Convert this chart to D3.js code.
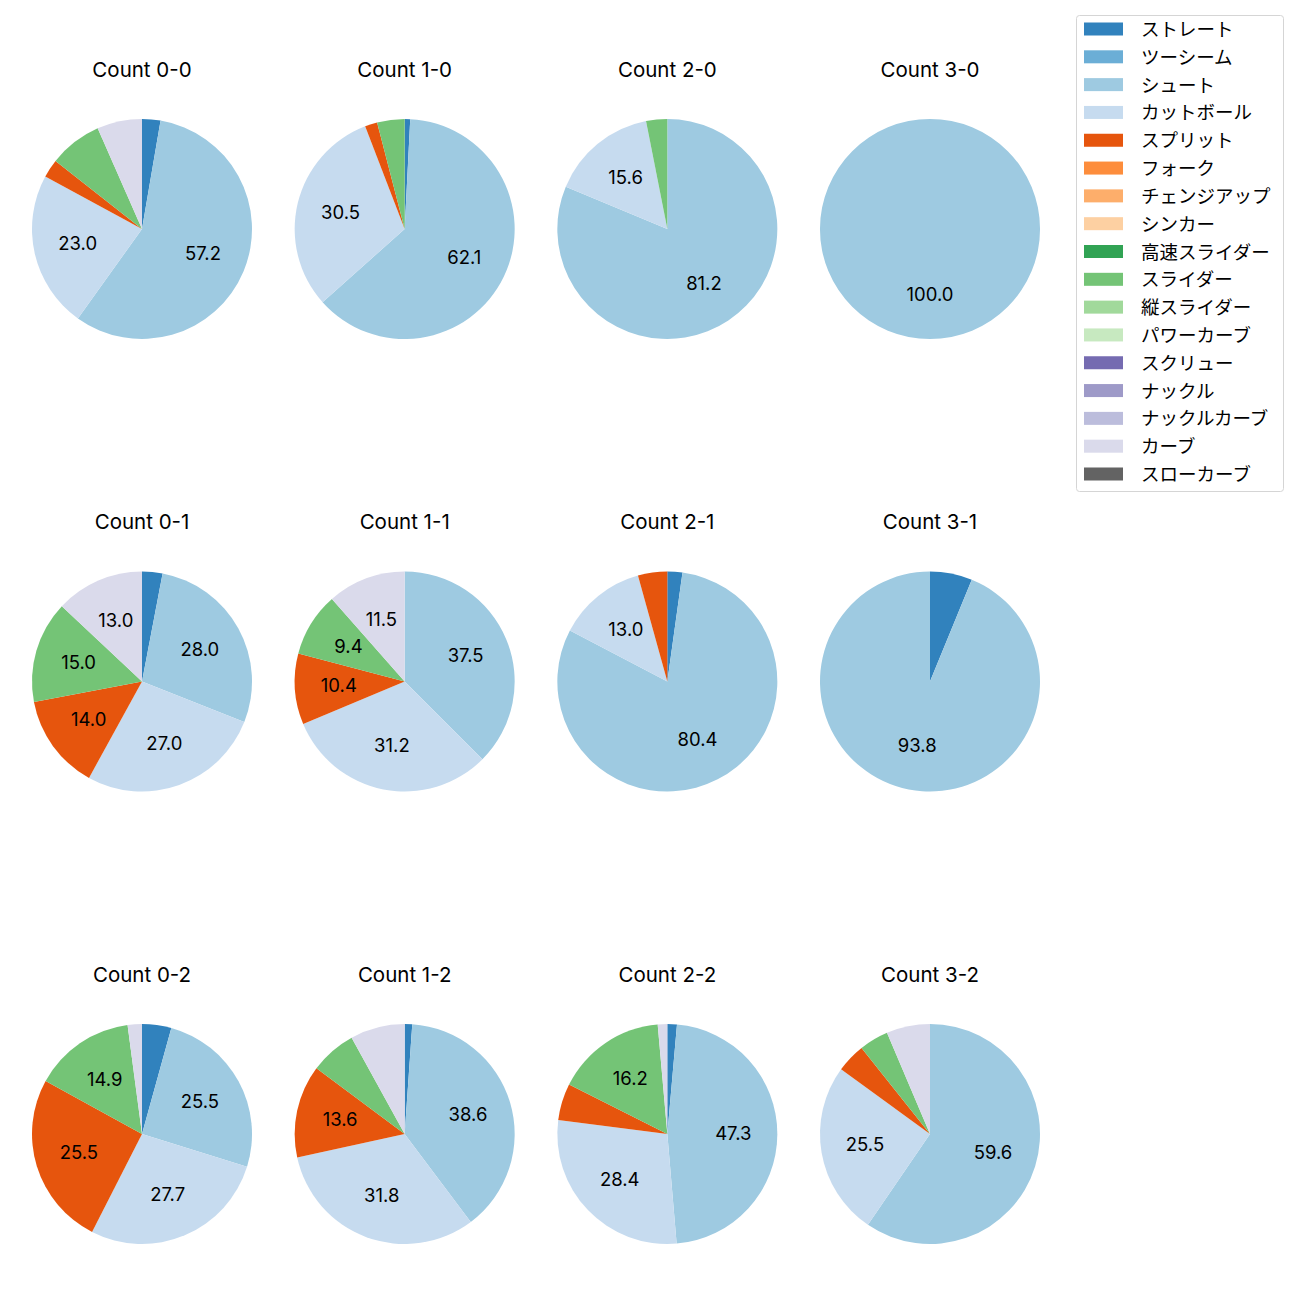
<!DOCTYPE html>
<html><head><meta charset="utf-8">
<script src="https://cdn.jsdelivr.net/npm/d3@7"></script>
<style>body{margin:0;background:#fff;} svg{display:block;font-family:Inter,"Noto Sans CJK JP","Noto Sans",sans-serif;}</style>
</head><body>
<script>
const pitchTypes = ["ストレート","ツーシーム","シュート","カットボール","スプリット","フォーク","チェンジアップ","シンカー","高速スライダー","スライダー","縦スライダー","パワーカーブ","スクリュー","ナックル","ナックルカーブ","カーブ","スローカーブ"];
const pitchColors = ["#3182bd","#6baed6","#9ecae1","#c6dbef","#e6550d","#fd8d3c","#fdae6b","#fdd0a2","#31a354","#74c476","#a1d99b","#c7e9c0","#756bb1","#9e9ac8","#bcbddc","#dadaeb","#636363"];
const counts = ["0-0","1-0","2-0","3-0","0-1","1-1","2-1","3-1","0-2","1-2","2-2","3-2"];
// values (%) per count, order: ストレート, シュート, カットボール, スプリット, スライダー, カーブ
const sliceTypes = ["ストレート","シュート","カットボール","スプリット","スライダー","カーブ"];
const c00 = [2.7, 57.2, 23.0, 2.7, 7.8, 6.6];
const c10 = [0.8, 62.1, 30.5, 1.8, 4.0, 0];
const c20 = [0, 81.2, 15.6, 0, 3.1, 0];
const c30 = [0, 100.0, 0, 0, 0, 0];
const c01 = [3.0, 28.0, 27.0, 14.0, 15.0, 13.0];
const c11 = [0, 37.5, 31.2, 10.4, 9.4, 11.5];
const c21 = [2.2, 80.4, 13.0, 4.3, 0, 0];
const c31 = [6.2, 93.8, 0, 0, 0, 0];
const c02 = [4.3, 25.5, 27.7, 25.5, 14.9, 2.1];
const c12 = [1.1, 38.6, 31.8, 13.6, 6.8, 8.0];
const c22 = [1.4, 47.3, 28.4, 5.4, 16.2, 1.4];
const c32 = [0, 59.6, 25.5, 4.3, 4.3, 6.4];
const allValues = [c00,c10,c20,c30,c01,c11,c21,c31,c02,c12,c22,c32];

const W = 1300, H = 1300;
const svg = d3.select("body").append("svg").attr("width", W).attr("height", H);
const color = d3.scaleOrdinal().domain(pitchTypes).range(pitchColors);

const colX = d3.scalePoint().domain([0,1,2,3]).range([142, 930]);
const rowY = d3.scalePoint().domain([0,1,2]).range([229, 1134]);
const R = 110;

const pie = d3.pie().sort(null).value(d => d.v).startAngle(0).endAngle(2*Math.PI);
const arc = d3.arc().innerRadius(0).outerRadius(R);
const labelArc = d3.arc().innerRadius(R*0.6).outerRadius(R*0.6);

counts.forEach((c, i) => {
  const col = i % 4, row = Math.floor(i / 4);
  const g = svg.append("g").attr("transform", `translate(${colX(col)},${rowY(row)})`);
  const data = sliceTypes.map((t, k) => ({t, v: allValues[i][k]})).filter(d => d.v > 0);
  const arcs = pie(data);
  g.selectAll("path").data(arcs).join("path")
    .attr("d", arc).attr("fill", d => color(d.data.t));
  g.selectAll("text.lbl").data(arcs.filter(d => d.data.v >= 9)).join("text")
    .attr("class","lbl")
    .attr("transform", d => { const p = labelArc.centroid(d); return `translate(${p[0]},${p[1]-1})`; })
    .attr("text-anchor","middle").attr("dominant-baseline","central")
    .attr("font-size", 18.5).attr("fill","#000")
    .text(d => d.data.v.toFixed(1));
  g.append("text").attr("x", 0).attr("y", -160)
    .attr("text-anchor","middle").attr("dominant-baseline","central")
    .attr("font-size", 20.5).attr("fill","#000")
    .text("Count " + c);
});

// legend
const lg = svg.append("g").attr("transform","translate(1076,15)");
lg.append("rect").attr("x",0.5).attr("y",0.5).attr("width",207).attr("height",476)
  .attr("rx",3).attr("fill","#fff").attr("stroke","#d5d5d5");
const ly = d3.scalePoint().domain(pitchTypes).range([14, 459]);
pitchTypes.forEach(t => {
  lg.append("rect").attr("x",8).attr("y",ly(t)-6.5).attr("width",39).attr("height",13).attr("fill",color(t));
  lg.append("text").attr("x",65).attr("y",ly(t)).attr("dominant-baseline","central")
    .attr("font-size",18.5).attr("fill","#000").text(t);
});
</script>
</body></html>
